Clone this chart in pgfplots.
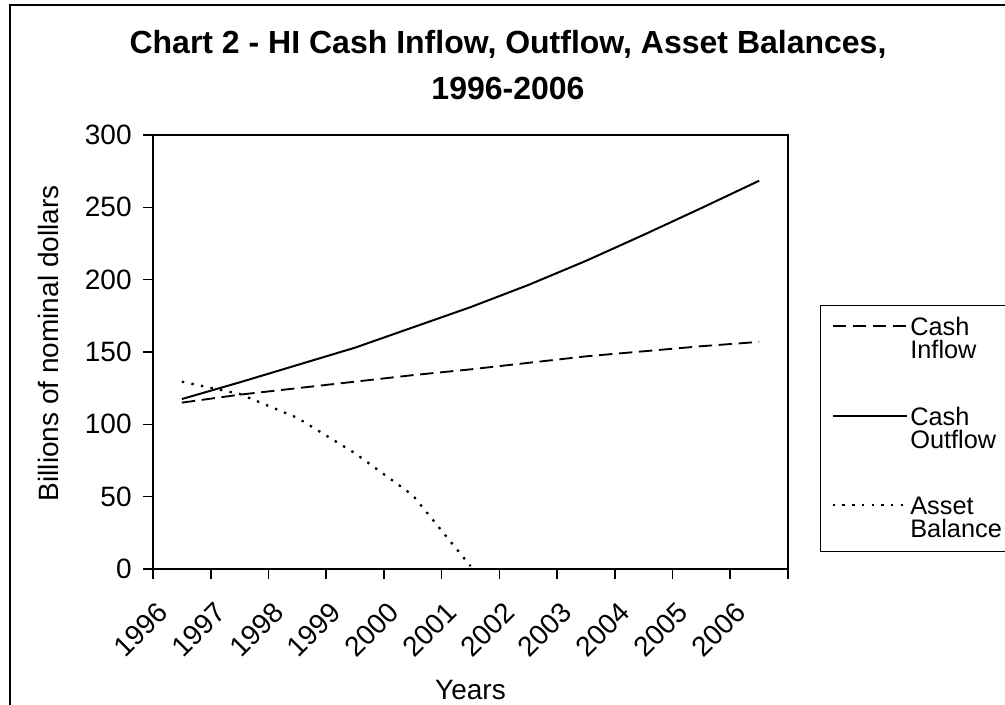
\documentclass[border=0pt]{standalone}
\usepackage{fontspec}
\setmainfont{Liberation Sans}
\usepackage{pgfplots}
\pgfplotsset{compat=1.18}
\begin{document}
\begin{tikzpicture}[x=0.75pt,y=0.75pt]
\useasboundingbox (0,0) rectangle (1005,704);
\clip (0,0) rectangle (1005,704);
\draw[line width=1.8pt] (10,-30) -- (10,699) -- (1040,699);
\node[font=\bfseries\fontsize{24}{34.5}\selectfont, align=center] at (508,639) {Chart 2 - HI Cash Inflow, Outflow, Asset Balances,\\1996-2006};
\coordinate (A) at (153,135);
\begin{axis}[
  at={(A)}, anchor=south west,
  width=476.25pt, height=325.5pt, scale only axis,
  xmin=-0.5, xmax=10.5, ymin=0, ymax=300,
  xtick={0,...,10},
  xticklabels={1996,1997,1998,1999,2000,2001,2002,2003,2004,2005,2006},
  minor xtick={-0.5,0.5,...,10.5},
  ytick={0,50,...,300},
  tick align=outside, tick pos=left,
  major tick length=7.5pt, minor tick length=7.5pt,
  major x tick style={draw=none},
  every tick/.style={black, line width=1.2pt},
  minor x tick style={black, line width=1.2pt},
  axis line style={line width=0.9pt},
  /pgf/number format/assume math mode=true,
  ticklabel style={font=\fontsize{21}{25}\selectfont},
  xticklabel shift=21.5pt,
  xticklabel style={xshift=-14pt, rotate=45, anchor=east, inner sep=0pt},
  yticklabel style={xshift=-5pt},
  xlabel={Years}, ylabel={Billions of nominal dollars},
  label style={font=\fontsize{21}{25}\selectfont},
  xlabel style={at={(axis description cs:0.5,-0.279)}, anchor=center},
  ylabel style={at={(axis description cs:-0.165,0.52)}, anchor=center},
  legend image code/.code={
    \path[draw=none,fill=none] (0pt,-17.25pt) rectangle (61.5pt,0pt);
    \draw[#1, overlay] (6pt,9.75pt) -- (61.5pt,9.75pt);
  },
  legend style={at={(axis description cs:1.0504,0.6083)}, anchor=north west,
    draw=black, line width=1pt, inner sep=3pt, row sep=22.9pt, column sep=0.75pt,
    font=\fontsize{19}{17.25}\selectfont,
    cells={align=left, anchor=west, minimum height=44.25pt, inner xsep=0pt, inner ysep=0pt}},
]
\draw[line width=1.6pt] (rel axis cs:0,1) -- (rel axis cs:0,0) -- (rel axis cs:1,0);
\addplot[black, line width=1.4pt, dash pattern=on 10pt off 5pt] coordinates {
(0,115) (1,120.5) (2,125) (3,129.5) (4,134) (5,138) (6,142.5) (7,147) (8,150.5) (9,154) (10,157)};
\addlegendentry{Cash\\Inflow}
\addplot[black, line width=1.5pt] coordinates {
(0,117.5) (1,129) (2,141) (3,153) (4,167) (5,181) (6,196.3) (7,213) (8,231) (9,249.5) (10,268.4)};
\addlegendentry{Cash\\Outflow}
\addplot[black, line width=1.7pt, dash pattern=on 1.8pt off 5.5pt] coordinates {
(0,129.5) (1,121) (2,104.5) (3,80) (4,51) (5,2)};
\addlegendentry{Asset\\Balance}
\end{axis}
\end{tikzpicture}
\end{document}
